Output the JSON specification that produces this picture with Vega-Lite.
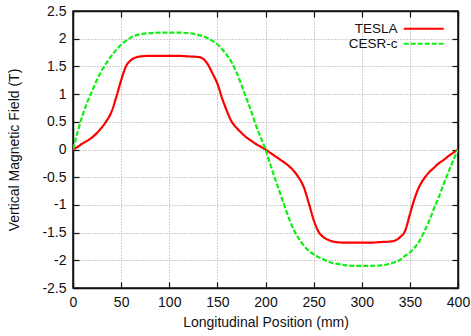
{
  "$schema": "https://vega.github.io/schema/vega-lite/v6.json",
  "width": 385,
  "height": 277,
  "autosize": {"type": "none"},
  "padding": {"left": 73, "top": 11, "right": 13, "bottom": 48},
  "background": "white",
  "config": {
    "font": "Liberation Sans",
    "view": {"stroke": "#111", "strokeWidth": 1.5},
    "axis": {
      "domainColor": "#111",
      "domainWidth": 1.5,
      "tickColor": "#111",
      "tickWidth": 1.2,
      "tickSize": -6,
      "labelColor": "#111",
      "labelFontSize": 14,
      "titleFontSize": 14,
      "titleFontWeight": "normal",
      "titleColor": "#111",
      "gridColor": "#a0a0a0",
      "gridDash": [1, 2],
      "gridWidth": 1
    }
  },
  "data": {
    "values": [
      {"series": "TESLA", "pos": 0, "field": 0},
      {"series": "TESLA", "pos": 5, "field": 0.05},
      {"series": "TESLA", "pos": 10, "field": 0.11},
      {"series": "TESLA", "pos": 15, "field": 0.16},
      {"series": "TESLA", "pos": 20, "field": 0.22},
      {"series": "TESLA", "pos": 25, "field": 0.3},
      {"series": "TESLA", "pos": 30, "field": 0.4},
      {"series": "TESLA", "pos": 35, "field": 0.52},
      {"series": "TESLA", "pos": 40, "field": 0.68},
      {"series": "TESLA", "pos": 45, "field": 0.95},
      {"series": "TESLA", "pos": 50, "field": 1.25},
      {"series": "TESLA", "pos": 55, "field": 1.5},
      {"series": "TESLA", "pos": 60, "field": 1.61},
      {"series": "TESLA", "pos": 65, "field": 1.66},
      {"series": "TESLA", "pos": 70, "field": 1.68},
      {"series": "TESLA", "pos": 80, "field": 1.69},
      {"series": "TESLA", "pos": 90, "field": 1.69},
      {"series": "TESLA", "pos": 100, "field": 1.69},
      {"series": "TESLA", "pos": 110, "field": 1.69},
      {"series": "TESLA", "pos": 120, "field": 1.68},
      {"series": "TESLA", "pos": 130, "field": 1.67},
      {"series": "TESLA", "pos": 135, "field": 1.64},
      {"series": "TESLA", "pos": 140, "field": 1.54},
      {"series": "TESLA", "pos": 145, "field": 1.37},
      {"series": "TESLA", "pos": 150, "field": 1.19},
      {"series": "TESLA", "pos": 155, "field": 0.92},
      {"series": "TESLA", "pos": 160, "field": 0.69},
      {"series": "TESLA", "pos": 165, "field": 0.5},
      {"series": "TESLA", "pos": 170, "field": 0.39},
      {"series": "TESLA", "pos": 175, "field": 0.3},
      {"series": "TESLA", "pos": 180, "field": 0.22},
      {"series": "TESLA", "pos": 185, "field": 0.16},
      {"series": "TESLA", "pos": 190, "field": 0.1},
      {"series": "TESLA", "pos": 195, "field": 0.05},
      {"series": "TESLA", "pos": 200, "field": 0},
      {"series": "TESLA", "pos": 205, "field": -0.06},
      {"series": "TESLA", "pos": 210, "field": -0.12},
      {"series": "TESLA", "pos": 215, "field": -0.18},
      {"series": "TESLA", "pos": 220, "field": -0.24},
      {"series": "TESLA", "pos": 225, "field": -0.31},
      {"series": "TESLA", "pos": 230, "field": -0.4},
      {"series": "TESLA", "pos": 235, "field": -0.52},
      {"series": "TESLA", "pos": 240, "field": -0.69},
      {"series": "TESLA", "pos": 245, "field": -0.97},
      {"series": "TESLA", "pos": 250, "field": -1.27},
      {"series": "TESLA", "pos": 255, "field": -1.48},
      {"series": "TESLA", "pos": 260, "field": -1.58},
      {"series": "TESLA", "pos": 265, "field": -1.63},
      {"series": "TESLA", "pos": 270, "field": -1.66},
      {"series": "TESLA", "pos": 280, "field": -1.68},
      {"series": "TESLA", "pos": 290, "field": -1.68},
      {"series": "TESLA", "pos": 300, "field": -1.68},
      {"series": "TESLA", "pos": 310, "field": -1.68},
      {"series": "TESLA", "pos": 320, "field": -1.67},
      {"series": "TESLA", "pos": 330, "field": -1.66},
      {"series": "TESLA", "pos": 335, "field": -1.64},
      {"series": "TESLA", "pos": 340, "field": -1.58},
      {"series": "TESLA", "pos": 345, "field": -1.47},
      {"series": "TESLA", "pos": 350, "field": -1.17},
      {"series": "TESLA", "pos": 355, "field": -0.88},
      {"series": "TESLA", "pos": 360, "field": -0.66},
      {"series": "TESLA", "pos": 365, "field": -0.52},
      {"series": "TESLA", "pos": 370, "field": -0.41},
      {"series": "TESLA", "pos": 375, "field": -0.33},
      {"series": "TESLA", "pos": 380, "field": -0.25},
      {"series": "TESLA", "pos": 385, "field": -0.19},
      {"series": "TESLA", "pos": 390, "field": -0.12},
      {"series": "TESLA", "pos": 395, "field": -0.06},
      {"series": "TESLA", "pos": 400, "field": 0},
      {"series": "CESR-c", "pos": 0, "field": 0},
      {"series": "CESR-c", "pos": 5, "field": 0.33},
      {"series": "CESR-c", "pos": 10, "field": 0.62},
      {"series": "CESR-c", "pos": 15, "field": 0.86},
      {"series": "CESR-c", "pos": 20, "field": 1.06},
      {"series": "CESR-c", "pos": 25, "field": 1.26},
      {"series": "CESR-c", "pos": 30, "field": 1.43},
      {"series": "CESR-c", "pos": 35, "field": 1.57},
      {"series": "CESR-c", "pos": 40, "field": 1.69},
      {"series": "CESR-c", "pos": 45, "field": 1.8},
      {"series": "CESR-c", "pos": 50, "field": 1.89},
      {"series": "CESR-c", "pos": 55, "field": 1.96},
      {"series": "CESR-c", "pos": 60, "field": 2.02},
      {"series": "CESR-c", "pos": 65, "field": 2.06},
      {"series": "CESR-c", "pos": 70, "field": 2.08},
      {"series": "CESR-c", "pos": 80, "field": 2.1},
      {"series": "CESR-c", "pos": 90, "field": 2.11},
      {"series": "CESR-c", "pos": 100, "field": 2.11},
      {"series": "CESR-c", "pos": 110, "field": 2.11},
      {"series": "CESR-c", "pos": 120, "field": 2.1},
      {"series": "CESR-c", "pos": 130, "field": 2.07},
      {"series": "CESR-c", "pos": 140, "field": 2.01},
      {"series": "CESR-c", "pos": 145, "field": 1.96},
      {"series": "CESR-c", "pos": 150, "field": 1.9},
      {"series": "CESR-c", "pos": 155, "field": 1.81},
      {"series": "CESR-c", "pos": 160, "field": 1.7},
      {"series": "CESR-c", "pos": 165, "field": 1.57},
      {"series": "CESR-c", "pos": 170, "field": 1.39},
      {"series": "CESR-c", "pos": 175, "field": 1.17},
      {"series": "CESR-c", "pos": 180, "field": 0.93},
      {"series": "CESR-c", "pos": 185, "field": 0.7},
      {"series": "CESR-c", "pos": 190, "field": 0.44},
      {"series": "CESR-c", "pos": 195, "field": 0.22},
      {"series": "CESR-c", "pos": 200, "field": 0},
      {"series": "CESR-c", "pos": 205, "field": -0.27},
      {"series": "CESR-c", "pos": 210, "field": -0.53},
      {"series": "CESR-c", "pos": 215, "field": -0.78},
      {"series": "CESR-c", "pos": 220, "field": -1.03},
      {"series": "CESR-c", "pos": 225, "field": -1.27},
      {"series": "CESR-c", "pos": 230, "field": -1.47},
      {"series": "CESR-c", "pos": 235, "field": -1.62},
      {"series": "CESR-c", "pos": 240, "field": -1.74},
      {"series": "CESR-c", "pos": 245, "field": -1.83},
      {"series": "CESR-c", "pos": 250, "field": -1.89},
      {"series": "CESR-c", "pos": 255, "field": -1.94},
      {"series": "CESR-c", "pos": 260, "field": -1.98},
      {"series": "CESR-c", "pos": 265, "field": -2.02},
      {"series": "CESR-c", "pos": 270, "field": -2.05},
      {"series": "CESR-c", "pos": 280, "field": -2.08},
      {"series": "CESR-c", "pos": 290, "field": -2.1},
      {"series": "CESR-c", "pos": 300, "field": -2.1},
      {"series": "CESR-c", "pos": 310, "field": -2.1},
      {"series": "CESR-c", "pos": 320, "field": -2.09},
      {"series": "CESR-c", "pos": 330, "field": -2.06},
      {"series": "CESR-c", "pos": 335, "field": -2.03},
      {"series": "CESR-c", "pos": 340, "field": -1.99},
      {"series": "CESR-c", "pos": 345, "field": -1.92},
      {"series": "CESR-c", "pos": 350, "field": -1.86},
      {"series": "CESR-c", "pos": 355, "field": -1.77},
      {"series": "CESR-c", "pos": 360, "field": -1.65},
      {"series": "CESR-c", "pos": 365, "field": -1.48},
      {"series": "CESR-c", "pos": 370, "field": -1.29},
      {"series": "CESR-c", "pos": 375, "field": -1.07},
      {"series": "CESR-c", "pos": 380, "field": -0.86},
      {"series": "CESR-c", "pos": 385, "field": -0.63},
      {"series": "CESR-c", "pos": 390, "field": -0.41},
      {"series": "CESR-c", "pos": 395, "field": -0.2},
      {"series": "CESR-c", "pos": 400, "field": 0}
    ]
  },
  "layer": [
    {
      "transform": [{"filter": "datum.series === 'TESLA'"}],
      "mark": {"type": "line", "interpolate": "monotone", "strokeWidth": 2.2, "clip": true},
      "encoding": {
        "x": {
          "field": "pos", "type": "quantitative",
          "scale": {"domain": [0, 400], "nice": false},
          "axis": {
            "orient": "bottom",
            "values": [0, 50, 100, 150, 200, 250, 300, 350, 400],
            "labelExpr": "toString(datum.value)",
            "labelPadding": 13,
            "title": "Longitudinal Position (mm)",
            "titlePadding": 6,
            "labelFlush": false
          }
        },
        "y": {
          "field": "field", "type": "quantitative",
          "scale": {"domain": [-2.5, 2.5], "nice": false, "zero": false},
          "axis": {
            "orient": "left",
            "values": [-2.5, -2, -1.5, -1, -0.5, 0, 0.5, 1, 1.5, 2, 2.5],
            "labelExpr": "toString(datum.value)",
            "labelPadding": 13,
            "title": "Vertical Magnetic Field (T)",
            "titlePadding": 20,
            "labelFlush": false
          }
        },
        "color": {
          "field": "series", "type": "nominal",
          "scale": {"domain": ["TESLA", "CESR-c"], "range": ["#ff0000", "#11ee11"]},
          "legend": {
            "title": null,
            "orient": "none",
            "legendX": 344,
            "legendY": 11,
            "symbolType": "M-4,0H4",
            "symbolSize": 100,
            "symbolStrokeWidth": 2.2,
            "symbolFillColor": "transparent",
            "labelFontSize": 13.5,
            "labelColor": "#111",
            "labelAlign": "right",
            "labelOffset": -33,
            "rowPadding": 0
          }
        },
        "strokeDash": {
          "field": "series", "type": "nominal",
          "scale": {"domain": ["TESLA", "CESR-c"], "range": [[1, 0], [5, 2]]},
          "legend": null
        }
      }
    },
    {
      "transform": [{"filter": "datum.series === 'CESR-c'"}],
      "mark": {"type": "line", "interpolate": "monotone", "strokeWidth": 2.2, "clip": true},
      "encoding": {
        "x": {
          "field": "pos", "type": "quantitative",
          "axis": {
            "orient": "top",
            "values": [0, 50, 100, 150, 200, 250, 300, 350, 400],
            "labels": false, "title": null, "grid": false
          }
        },
        "y": {
          "field": "field", "type": "quantitative",
          "axis": {
            "orient": "right",
            "values": [-2.5, -2, -1.5, -1, -0.5, 0, 0.5, 1, 1.5, 2, 2.5],
            "labels": false, "title": null, "grid": false
          }
        },
        "color": {"field": "series", "type": "nominal"},
        "strokeDash": {"field": "series", "type": "nominal"}
      }
    }
  ],
  "resolve": {"axis": {"x": "independent", "y": "independent"}}
}
